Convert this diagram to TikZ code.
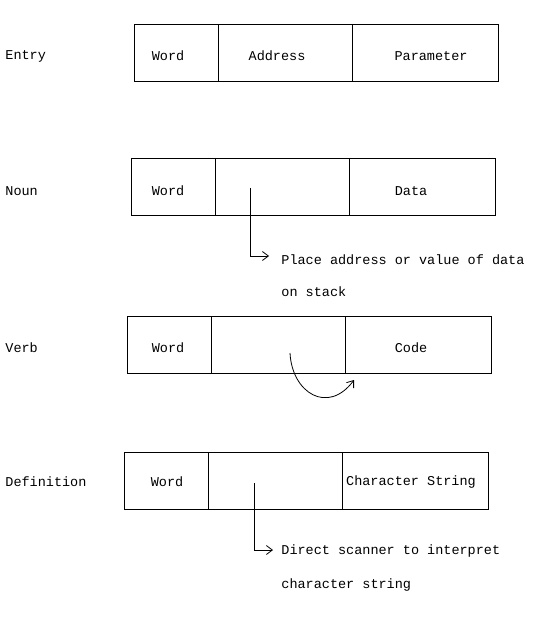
\documentclass[tikz,border=0pt]{standalone}
\usepackage{fontspec}
\setmonofont{Liberation Mono}
\usetikzlibrary{arrows.meta}

\begin{document}
\begin{tikzpicture}[x=1pt,y=-1pt,line width=0.8pt,
        every node/.style={font=\ttfamily\fontsize{13.5}{15}\selectfont,inner sep=0pt},
        kind/.style={anchor=west},
        note/.style={anchor=west},
        ptr/.style={-{Straight Barb[length=6pt,width=9pt]}}]
                \useasboundingbox (0,0) rectangle (537,617);
                % Entry
                \node[kind] (entry) at (5,56) {Entry};
                \draw (134,24) rectangle (498,81);
                \draw (218,24) -- (218,81) (352,24) -- (352,81);
                \node (eword) at (168,56) {Word};
                \node (eaddr) at (277,56) {Address};
                \node (epar) at (431,56) {Parameter};
                % Noun
                \node[kind] (noun) at (5,191) {Noun};
                \draw (131,158) rectangle (495,215);
                \draw (215,158) -- (215,215) (349,158) -- (349,215);
                \node (nword) at (168,191) {Word};
                \node (ndata) at (411,191) {Data};
                \coordinate (nptr) at (250,188);
                \coordinate (nend) at (269,256);
                \node[note] (nnote) at (281,260) {Place address or value of data};
                \node[note] (nnote2) at (281,292) {on stack};
                \draw[ptr] (nptr) |- (nend);
                % Verb
                \node[kind] (verb) at (5,348) {Verb};
                \draw (127,316) rectangle (491,373);
                \draw (211,316) -- (211,373) (345,316) -- (345,373);
                \node (vword) at (168,348) {Word};
                \node (vcode) at (411,348) {Code};
                \coordinate (vptr) at (290,353);
                \coordinate (vend) at (354,380);
                \draw[ptr] (vptr) .. controls (292,393) and (328,415) .. (vend);
                % Definition
                \node[kind] (defn) at (5,482) {Definition};
                \draw (124,452) rectangle (488,509);
                \draw (208,452) -- (208,509) (342,452) -- (342,509);
                \node (dword) at (167,482) {Word};
                \node (dstr) at (411,482) {Character String};
                \coordinate (dptr) at (254,483);
                \coordinate (dend) at (273,550);
                \node[note] (dnote) at (281,551) {Direct scanner to interpret};
                \node[note] (dnote2) at (281,585) {character string};
                \draw[ptr] (dptr) |- (dend);
            \end{tikzpicture}
\end{document}
